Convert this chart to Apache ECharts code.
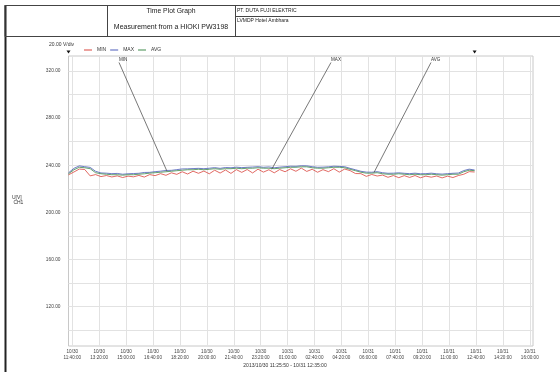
<!DOCTYPE html>
<html>
<head>
<meta charset="utf-8">
<script src="https://cdn.jsdelivr.net/npm/echarts@6/dist/echarts.min.js"></script>
<style>
  html, body { margin: 0; padding: 0; background: #fff; }
  #chart { width: 560px; height: 372px; }
</style>
</head>
<body>
<div id="chart"></div>
<script>
// minutes counted from 2013/10/30 00:00
const startMin = 685.83;   // 10/30 11:25:50
const endMin = 2195;       // 10/31 12:35:00
const xTicks = [700, 800, 900, 1000, 1100, 1200, 1300, 1400, 1500, 1600, 1700, 1800, 1900, 2000, 2100, 2200, 2300, 2400];
const yLabels = [120, 160, 200, 240, 280, 320];
const yGrid = [100, 120, 140, 160, 180, 200, 220, 240, 260, 280, 300, 320];

const avgV = [
  232.8, 236.2, 238.3, 237.9, 237.1, 233.7, 232.8, 232.4, 232.0, 232.0,
  231.6, 232.0, 232.0, 232.4, 232.8, 233.3, 233.7, 234.1, 234.5, 234.9,
  235.4, 235.8, 236.2, 236.2, 236.6, 236.2, 236.6, 237.1, 236.6, 237.1,
  237.1, 237.5, 237.1, 237.5, 237.5, 237.9, 237.5, 237.5, 237.1, 237.5,
  237.9, 238.3, 238.3, 238.7, 238.7, 237.9, 237.5, 237.5, 237.9, 238.3,
  238.3, 237.9, 236.6, 235.4, 234.1, 233.3, 233.3, 233.7, 232.8, 232.4,
  232.4, 232.8, 232.4, 232.0, 232.4, 232.0, 232.0, 232.4, 232.0, 231.6,
  232.0, 232.4, 232.4, 234.5, 235.8, 235.4
];
const maxV = [
  233.6, 237.4, 239.5, 238.8, 238.2, 234.9, 233.5, 233.3, 232.9, 233.1,
  232.4, 232.8, 233.0, 233.2, 233.9, 234.0, 234.6, 235.0, 235.6, 235.7,
  236.3, 236.9, 237.0, 237.2, 237.4, 237.1, 237.5, 238.0, 237.4, 238.1,
  237.9, 238.4, 238.0, 238.3, 238.5, 238.8, 238.3, 238.6, 237.9, 238.4,
  238.8, 239.2, 239.1, 239.6, 239.5, 238.8, 238.3, 238.4, 238.7, 239.2,
  239.0, 238.8, 237.4, 236.2, 234.9, 234.2, 234.1, 234.6, 233.7, 233.2,
  233.3, 233.6, 233.2, 232.9, 233.3, 232.8, 232.9, 233.3, 232.8, 232.5,
  232.9, 233.2, 233.4, 235.5, 236.7, 236.0
];
const minV = [
  231.9, 234.3, 236.8, 236.4, 231.0, 232.1, 230.4, 231.3, 230.1, 231.0,
  229.6, 230.8, 230.2, 231.4, 230.0, 232.1, 231.2, 232.9, 231.5, 233.6,
  232.3, 234.5, 232.6, 235.0, 233.2, 235.1, 232.8, 235.8, 233.4, 236.0,
  233.1, 236.3, 234.0, 236.4, 233.5, 236.7, 234.2, 236.2, 233.6, 236.4,
  234.5, 237.0, 234.9, 237.6, 234.8, 236.6, 234.1, 236.3, 234.6, 237.1,
  234.2, 236.8, 235.5, 233.0, 232.9, 230.6, 232.2, 230.9, 231.7, 229.8,
  231.3, 229.5, 231.2, 229.7, 231.3, 229.4, 230.8, 229.9, 230.9, 229.3,
  230.8, 229.6, 231.3, 232.4, 234.6, 234.3
];

// callouts: [name, label time, label value, target time, target value]
const callouts = [
  ['MIN', 873.5, 327.2, 1051.9, 234.9],
  ['MAX', 1661.3, 327.2, 1441.0, 236.6],
  ['AVG', 2033.0, 327.2, 1821.0, 233.8]
];

const step = (endMin - startMin) / (avgV.length - 1);
const times = avgV.map((_, i) => startMin + i * step);
const pairs = arr => arr.map((v, i) => [times[i], v]);

const pad = n => (n < 10 ? '0' : '') + n;
function fmtTime(m) {
  const day = m >= 1440 ? '10/31' : '10/30';
  const mm = m % 1440;
  return day + '\n' + pad(Math.floor(mm / 60)) + ':' + pad(Math.round(mm % 60)) + ':00';
}

const FONT = 'Liberation Sans';
const chart = echarts.init(document.getElementById('chart'), null, { renderer: 'canvas' });

const option = {
  animation: false,
  backgroundColor: '#fff',
  textStyle: { fontFamily: FONT },
  grid: {
    left: 68.5, right: 27, top: 56, bottom: 26,
    show: true, borderColor: '#c8c8c8', borderWidth: 1
  },
  legend: {
    data: ['MIN', 'MAX', 'AVG'],
    left: 79, top: 42.5,
    icon: 'rect', itemWidth: 8, itemHeight: 1, itemGap: 4,
    textStyle: { fontSize: 5, color: '#333', fontFamily: FONT }
  },
  xAxis: {
    type: 'value', min: startMin, max: 2412,
    axisLine: { show: false },
    splitLine: { show: false },
    axisTick: { customValues: xTicks, inside: true, length: 290, lineStyle: { color: '#e2e2e2', width: 1 } },
    axisLabel: {
      customValues: xTicks, formatter: fmtTime, margin: 3,
      fontSize: 4.6, lineHeight: 6, color: '#444', fontFamily: FONT
    }
  },
  yAxis: {
    type: 'value', min: 86.7, max: 332.7,
    axisLine: { show: false },
    splitLine: { show: false },
    axisTick: { customValues: yGrid, inside: true, length: 464.5, lineStyle: { color: '#e2e2e2', width: 1 } },
    axisLabel: {
      customValues: yLabels, formatter: v => v.toFixed(2), margin: 8,
      fontSize: 4.8, color: '#444', fontFamily: FONT
    }
  },
  graphic: [
    { type: 'line', shape: { x1: 5.5, y1: 5, x2: 5.5, y2: 372 }, style: { stroke: '#222', lineWidth: 2 } },
    { type: 'rect', shape: { x: 5, y: 5.5, width: 560, height: 31 }, style: { fill: 'none', stroke: '#444', lineWidth: 1 } },
    { type: 'line', shape: { x1: 107.5, y1: 5.5, x2: 107.5, y2: 36.5 }, style: { stroke: '#444', lineWidth: 1 } },
    { type: 'line', shape: { x1: 235.5, y1: 5.5, x2: 235.5, y2: 36.5 }, style: { stroke: '#444', lineWidth: 1 } },
    { type: 'line', shape: { x1: 235.5, y1: 16.5, x2: 565, y2: 16.5 }, style: { stroke: '#444', lineWidth: 1 } },
    { type: 'text', x: 171, y: 11, style: { text: 'Time Plot Graph', font: '6.8px ' + FONT, fill: '#222', align: 'center', verticalAlign: 'middle' } },
    { type: 'text', x: 171, y: 27, style: { text: 'Measurement from a HIOKI PW3198', font: '7px ' + FONT, fill: '#222', align: 'center', verticalAlign: 'middle' } },
    { type: 'text', x: 237, y: 11, style: { text: 'PT. DUTA FUJI ELEKTRIC', font: '5px ' + FONT, fill: '#222', align: 'left', verticalAlign: 'middle' } },
    { type: 'text', x: 237, y: 21, style: { text: 'LVMDP Hotel Ambhara', font: '5px ' + FONT, fill: '#222', align: 'left', verticalAlign: 'middle' } },
    { type: 'text', x: 49, y: 45, style: { text: '20.00 V/div', font: '5px ' + FONT, fill: '#333', align: 'left', verticalAlign: 'middle' } },
    { type: 'text', x: 12, y: 200, style: { text: 'U[V]\n CH1', font: '5px ' + FONT, fill: '#333', align: 'left', verticalAlign: 'middle', lineHeight: 5 } },
    { type: 'text', x: 285, y: 366, style: { text: '2013/10/30 11:25:50 - 10/31 12:35:00', font: '5px ' + FONT, fill: '#333', align: 'center', verticalAlign: 'middle' } }
  ],
  series: [
    {
      name: 'MIN', type: 'line', data: pairs(minV), symbol: 'none',
      lineStyle: { color: '#d9443c', width: 0.8 }, itemStyle: { color: '#d9443c' }
    },
    {
      name: 'MAX', type: 'line', data: pairs(maxV), symbol: 'none',
      lineStyle: { color: '#4a5ab8', width: 0.8 }, itemStyle: { color: '#4a5ab8' }
    },
    {
      name: 'AVG', type: 'line', data: pairs(avgV), symbol: 'none',
      lineStyle: { color: '#3e8a4a', width: 0.8 }, itemStyle: { color: '#3e8a4a' },
      markLine: {
        silent: true, symbol: 'none', animation: false,
        lineStyle: { color: '#555', width: 0.8, type: 'solid' },
        label: { show: false },
        data: callouts.map(c => [{ coord: [c[1], c[2]] }, { coord: [c[3], c[4]] }])
      },
      markPoint: {
        silent: true, animation: false,
        data: callouts.map(c => ({
          coord: [c[1], c[2]], name: c[0], symbol: 'circle', symbolSize: 0,
          label: { show: true, formatter: '{b}', position: 'right', offset: [-5, -3], fontSize: 4.6, color: '#333', fontFamily: FONT }
        })).concat([startMin, endMin].map(t => ({
          coord: [t, 332.7], symbol: 'triangle', symbolRotate: 180, symbolSize: [4, 3],
          symbolOffset: [0, -4], itemStyle: { color: '#111' }, label: { show: false }
        })))
      }
    }
  ]
};

chart.setOption(option);
</script>
</body>
</html>
